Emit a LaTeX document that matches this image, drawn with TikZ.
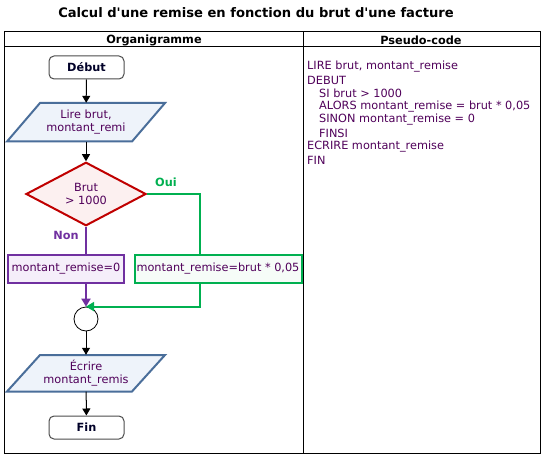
\documentclass[tikz,border=0pt]{standalone}
\usepackage{fontspec}
\setmainfont{DejaVu Sans}
\usetikzlibrary{arrows.meta,shapes.geometric}
\definecolor{txt}{RGB}{80,0,90}
\definecolor{ioborder}{RGB}{74,110,154}
\definecolor{iofill}{RGB}{238,243,250}
\definecolor{decborder}{RGB}{192,0,0}
\definecolor{decfill}{RGB}{252,240,240}
\definecolor{ouigreen}{RGB}{0,176,80}
\definecolor{nonpurple}{RGB}{112,48,160}
\definecolor{purplefill}{RGB}{245,238,250}
\definecolor{greenfill}{RGB}{246,252,248}
\definecolor{termtxt}{RGB}{0,0,40}
\tikzset{
  base/.style={font=\fontsize{11.3}{13.3}\selectfont},
  bold/.style={font=\fontsize{11.3}{13.3}\selectfont\bfseries},
  titlefont/.style={font=\fontsize{13.1}{15}\selectfont\bfseries},
  term/.style={draw=black!70, line width=1pt, rounded corners=5pt, minimum width=75pt, minimum height=23pt, inner sep=0pt, text=termtxt, bold},
  iotext/.style={minimum height=38.5pt, inner sep=0pt, align=center, text=txt, base},
  ioshape/.style={draw=ioborder, fill=iofill, line width=2pt, line join=miter},
  decision/.style={diamond, draw=decborder, fill=decfill, line width=2pt, minimum width=120pt, minimum height=56pt, inner sep=0pt, align=center, text=txt, base},
  procp/.style={draw=nonpurple, fill=purplefill, line width=2pt, minimum height=28pt, inner sep=0pt, text=txt, base},
  procg/.style={draw=ouigreen, fill=greenfill, line width=2pt, minimum height=28pt, inner sep=0pt, text=txt, base},
  junction/.style={circle, draw=black, fill=white, line width=0.8pt, minimum size=24pt, inner sep=0pt},
  arr/.style={line width=1pt, -{Triangle[length=7pt,width=8pt]}},
  tline/.style={line width=1pt, black},
  code/.style={anchor=west, inner sep=0pt, text=txt, base}
}
\begin{document}
\begin{tikzpicture}[x=1pt,y=-1pt]
\useasboundingbox (0,0) rectangle (543,457);
\fill[white] (0,0) rectangle (543,457);
% title
\node[titlefont] (title) at (256,13) {Calcul d\textquotesingle une remise en fonction du brut d\textquotesingle une facture};
% table
\draw[tline] (4,32) rectangle (540,453.5);
\draw[tline] (4,47) -- (540,47);
\draw[tline] (303,32) -- (303,453.5);
\node[bold] (h1) at (154,40) {Organigramme};
\node[bold] (h2) at (421,40) {Pseudo-code};
% flowchart
\node[term] (debut) at (86.5,67.5) {Début};
\draw[ioshape] (7,141.5) -- (40,103) -- (165,103) -- (132,141.5) -- cycle;
\node[iotext] (lire) at (86,122.25) {Lire brut,\\montant\_remi};
\node[decision] (dec) at (86,194) {Brut\\> 1000};
\node[procp, minimum width=116pt] (non) at (66,269) {montant\_remise=0};
\node[procg, minimum width=167pt] (oui) at (218,269) {montant\_remise=brut * 0,05};
\node[junction] (join) at (86,319) {};
\draw[ioshape] (7,391.5) -- (40,355) -- (165,355) -- (132,391.5) -- cycle;
\node[iotext, minimum height=36.5pt] (ecrire) at (86,373.25) {Écrire\\montant\_remis};
\node[term] (fin) at (86.5,427.5) {Fin};
\coordinate (gcol) at (200,0);
\coordinate (pcol) at (86,0);
% connectors
\draw[arr] (debut) -- (lire);
\draw[arr] (lire) -- (dec);
\draw[line width=2pt, ouigreen] (dec.east) -| (gcol |- oui.north);
\draw[line width=2pt, nonpurple] (dec.south) -- (pcol |- non.north);
\draw[line width=2pt, nonpurple, -{Triangle[length=8pt,width=9pt]}] (pcol |- non.south) -- (join.north);
\draw[line width=2pt, ouigreen, -{Triangle[length=8pt,width=9pt]}] (gcol |- oui.south) |- (join.north);
\draw[arr] (join) -- (ecrire);
\draw[arr] (ecrire) -- (fin);
\node[bold, text=ouigreen] (ouil) at (166,182) {Oui};
\node[bold, text=nonpurple] (nonl) at (66,235) {Non};
% pseudo-code
\node[code] (c1) at (307,67) {LIRE brut, montant\_remise};
\node[code] (c2) at (307,80) {DEBUT};
\node[code] (c3) at (319,93.3) {SI brut > 1000};
\node[code] (c4) at (319,106.6) {ALORS montant\_remise = brut * 0,05};
\node[code] (c5) at (319,120) {SINON montant\_remise = 0};
\node[code] (c6) at (319,133.3) {FINSI};
\node[code] (c7) at (307,146.6) {ECRIRE montant\_remise};
\node[code] (c8) at (307,160) {FIN};
\end{tikzpicture}
\end{document}
